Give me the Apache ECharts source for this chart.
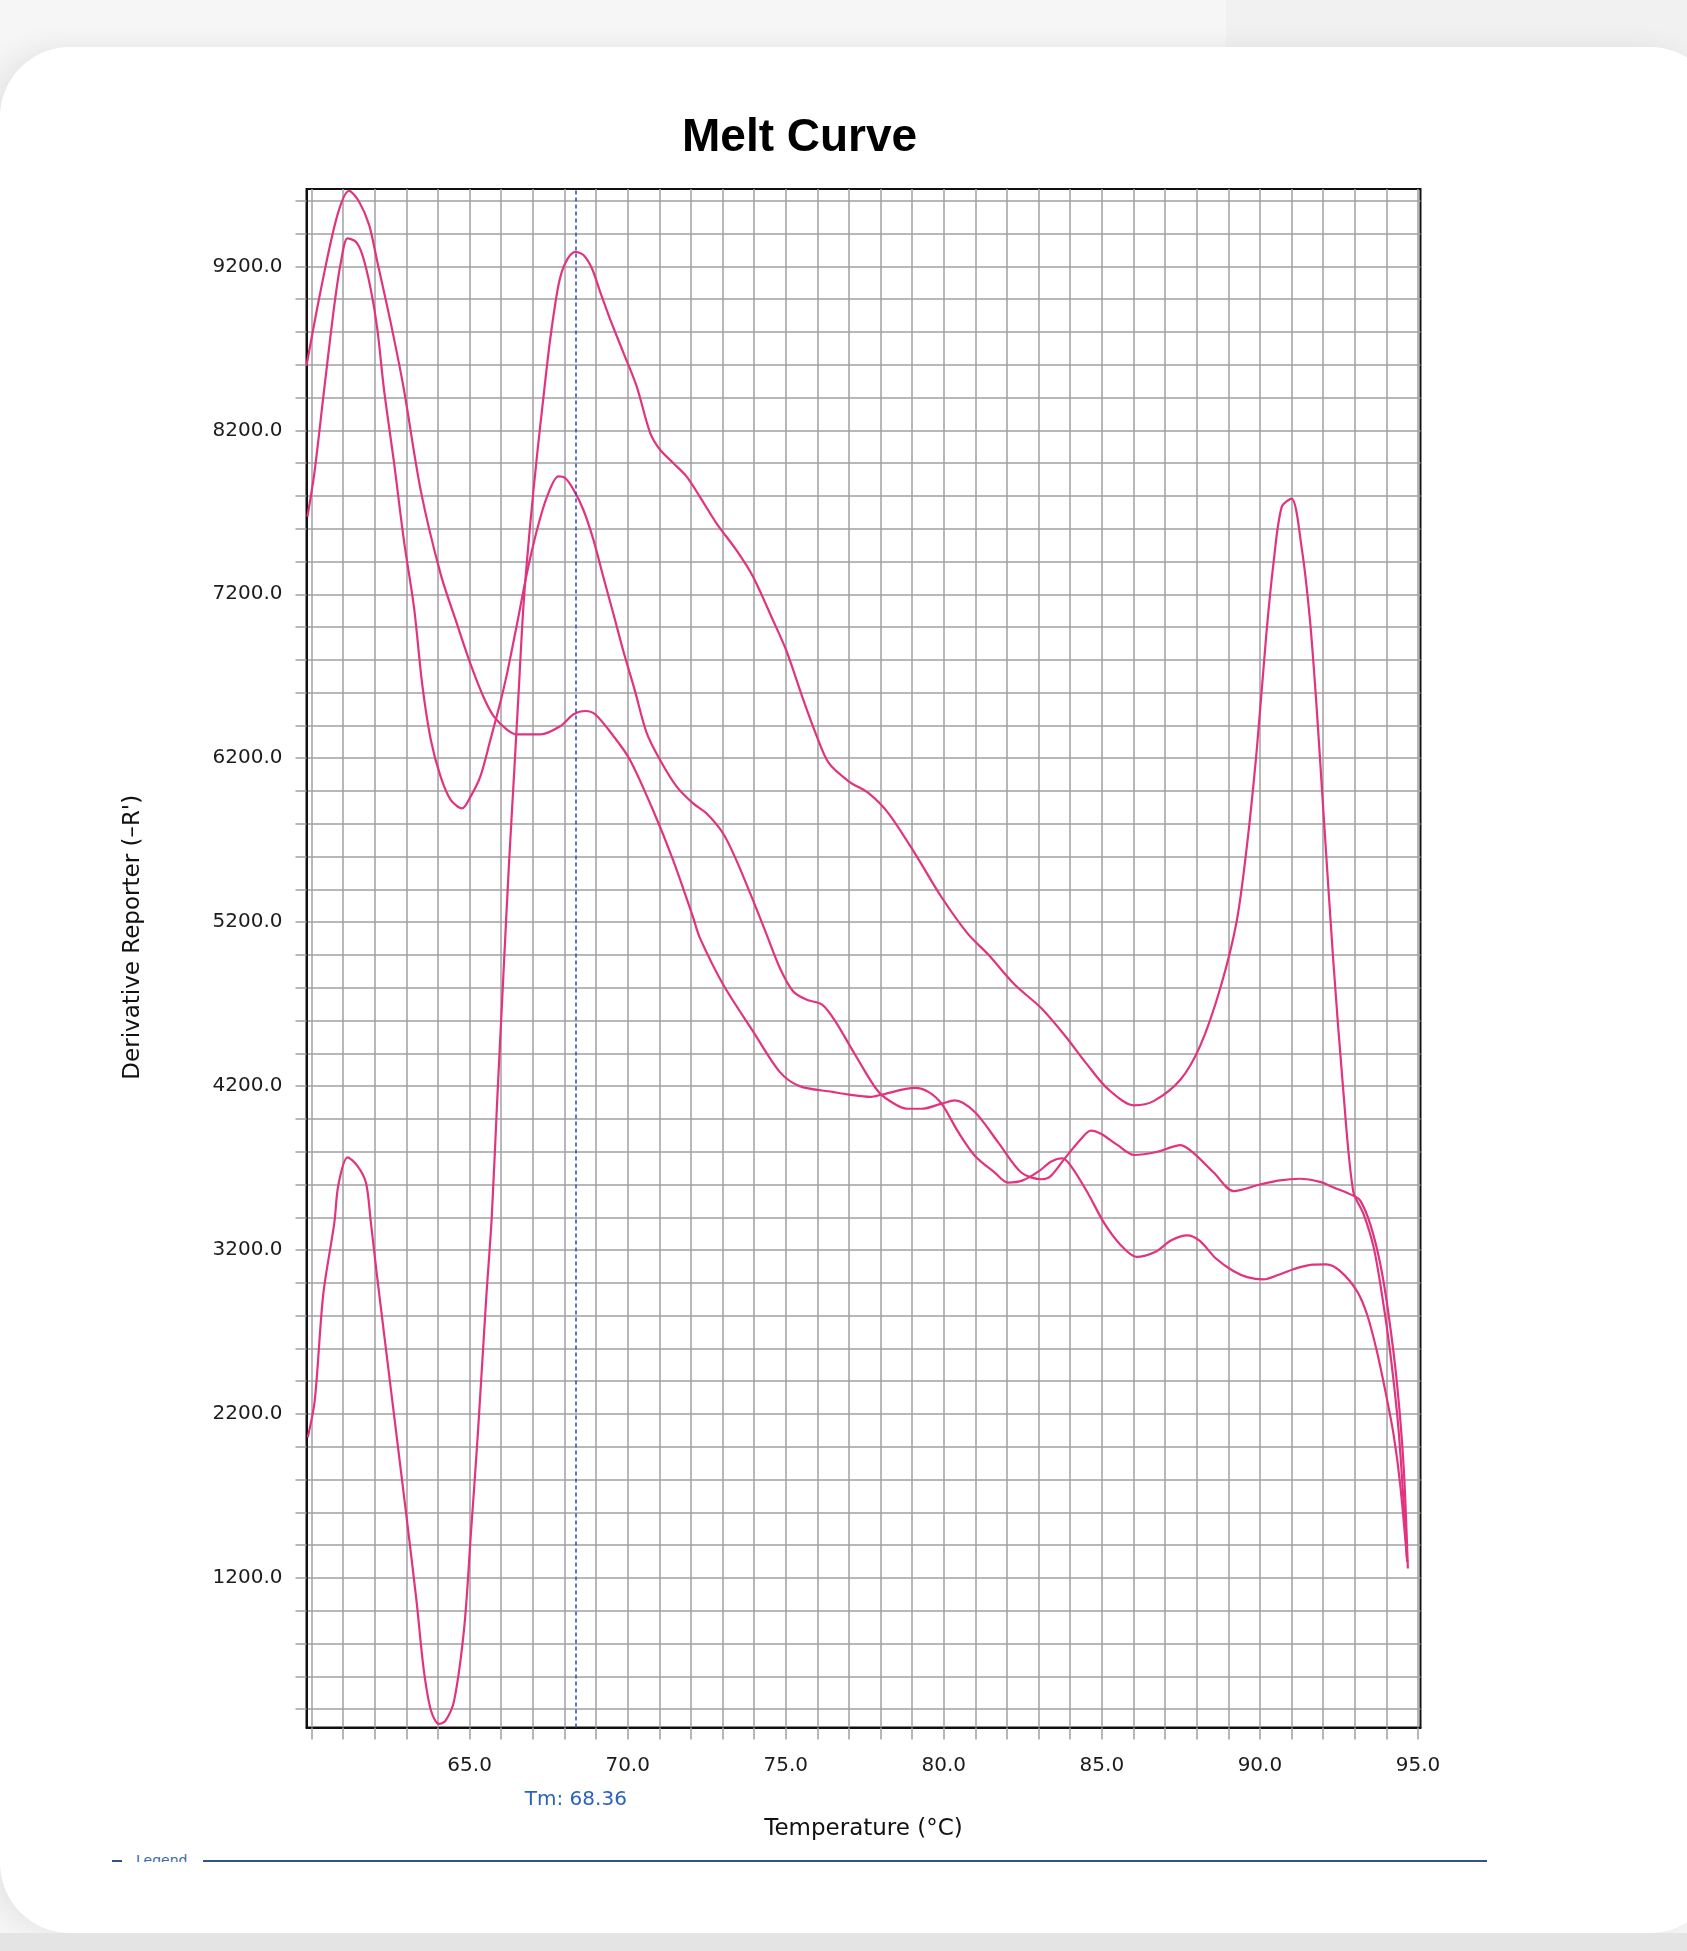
<!DOCTYPE html>
<html>
<head>
<meta charset="utf-8">
<script src="https://cdn.jsdelivr.net/npm/echarts@6/dist/echarts.min.js"></script>
<style>
  html, body { margin:0; padding:0; width:1687px; height:1951px; overflow:hidden; background:#f6f6f6; }
  #topband { position:absolute; left:1226px; top:0; width:461px; height:60px; background:#f1f1f1; }
  #card { position:absolute; left:0px; top:47px; width:1720px; height:1886px; background:#ffffff;
          border-radius:70px; box-shadow:-12px 0 28px rgba(0,0,0,0.07); }
  #botband { position:absolute; left:0; top:1933px; width:1687px; height:18px; background:#e4e4e4; }
  #legendline { position:absolute; left:203px; top:1860px; width:1284px; height:2px; background:#2f5487; }
  #legendtick { position:absolute; left:112px; top:1860px; width:10px; height:2px; background:#2f5487; }
  #legendtxt { position:absolute; left:136px; top:1850px; height:12px; overflow:hidden; font-family:'DejaVu Sans'; font-size:14px; line-height:20px; color:#3c6aa8; }
  #chart { position:absolute; left:0; top:0; width:1687px; height:1951px; }
</style>
</head>
<body>
<div id="topband"></div>
<div id="card"></div>
<div id="botband"></div>
<div id="legendtick"></div>
<div id="legendline"></div>
<div id="legendtxt">Legend</div>
<div id="chart"></div>
<script>
// ---- data ----
const xMin = 59.84, xMax = 95.08;
const yMin = 288, yMax = 9672;
const tmValue = 68.36;
const xTickValues = [60,61,62,63,64,65,66,67,68,69,70,71,72,73,74,75,76,77,78,79,80,81,82,83,84,85,86,87,88,89,90,91,92,93,94,95];
const xLabelValues = [65,70,75,80,85,90,95];
const yTickValues = [400,600,800,1000,1200,1400,1600,1800,2000,2200,2400,2600,2800,3000,3200,3400,3600,3800,4000,4200,4400,4600,4800,5000,5200,5400,5600,5800,6000,6200,6400,6600,6800,7000,7200,7400,7600,7800,8000,8200,8400,8600,8800,9000,9200,9400,9600];
const yLabelValues = [1200,2200,3200,4200,5200,6200,7200,8200,9200];

const wellA = [[59.84,8594],[60.3,9064],[60.82,9514],[61.19,9661],[61.5,9596],[61.82,9453],[62.08,9228],[62.5,8860],[62.92,8451],[63.45,7837],[64.08,7326],[64.6,7019],[65.03,6774],[65.45,6569],[65.76,6457],[66.18,6375],[66.5,6345],[67.24,6345],[67.87,6396],[68.29,6468],[68.66,6488],[68.97,6468],[69.55,6335],[70.07,6191],[70.8,5884],[71.44,5577],[72.07,5229],[72.28,5106],[73.02,4820],[73.97,4533],[74.81,4287],[75.44,4200],[76.47,4165],[77.0,4148],[77.68,4134],[78.04,4148],[79.09,4189],[79.51,4165],[79.93,4093],[80.46,3919],[80.98,3776],[81.61,3673],[82.03,3612],[82.5,3625],[83.0,3680],[83.4,3740],[83.75,3760],[84.02,3714],[84.55,3550],[85.07,3366],[85.6,3230],[86.1,3158],[86.7,3190],[87.2,3260],[87.7,3290],[88.1,3256],[88.6,3150],[89.16,3072],[89.6,3035],[90.11,3021],[90.6,3050],[91.06,3083],[91.6,3110],[92.1,3113],[92.54,3072],[93.07,2950],[93.39,2807],[93.7,2583],[93.97,2338],[94.23,2073],[94.44,1767],[94.66,1299]];

const wellB = [[59.87,7674],[60.09,7940],[60.4,8451],[60.72,8962],[60.93,9228],[61.14,9371],[61.4,9350],[61.61,9269],[61.87,9064],[62.08,8819],[62.29,8451],[62.61,8001],[62.92,7530],[63.24,7121],[63.5,6652],[63.77,6314],[64.08,6089],[64.4,5946],[64.76,5894],[65.03,5966],[65.34,6089],[65.66,6314],[65.97,6540],[66.18,6713],[66.5,7019],[66.81,7326],[67.13,7592],[67.45,7796],[67.81,7919],[68.02,7909],[68.29,7837],[68.6,7714],[68.92,7530],[69.23,7305],[69.55,7080],[69.86,6856],[70.23,6611],[70.6,6355],[71.02,6191],[71.55,6027],[72.07,5925],[72.49,5864],[73.02,5741],[73.44,5577],[73.97,5331],[74.39,5127],[74.81,4922],[75.23,4779],[75.65,4728],[76.15,4697],[76.57,4595],[77.2,4390],[77.94,4164],[78.5,4085],[78.88,4062],[79.3,4062],[79.93,4093],[80.35,4113],[80.98,4042],[81.72,3857],[82.45,3673],[83.08,3632],[83.39,3653],[83.81,3755],[84.34,3878],[84.65,3929],[84.97,3909],[85.5,3840],[86.02,3780],[86.76,3800],[87.49,3840],[87.91,3790],[88.54,3673],[89.17,3560],[90.0,3600],[90.63,3625],[91.26,3635],[91.9,3616],[92.33,3582],[92.96,3531],[93.18,3500],[93.49,3358],[93.81,3113],[94.07,2807],[94.34,2379],[94.55,1869],[94.68,1258]];

const wellC = [[59.88,2058],[60.1,2281],[60.37,2930],[60.72,3366],[60.85,3600],[61.14,3766],[61.45,3714],[61.72,3612],[61.87,3380],[62.06,3060],[62.3,2680],[62.58,2240],[63.0,1580],[63.32,1060],[63.55,640],[63.78,390],[64.03,310],[64.24,330],[64.51,452],[64.83,899],[65.04,1468],[65.26,2078],[65.52,2891],[65.7,3400],[65.87,4103],[66.08,4922],[66.24,5536],[66.39,6048],[66.55,6600],[66.71,7150],[66.92,7633],[67.13,8042],[67.34,8410],[67.55,8757],[67.81,9085],[68.02,9218],[68.34,9289],[68.6,9269],[68.87,9187],[69.13,9044],[69.44,8880],[69.86,8676],[70.28,8471],[70.71,8185],[71.02,8083],[71.44,8001],[71.86,7919],[72.28,7796],[72.81,7633],[73.44,7469],[73.97,7306],[74.6,7040],[75.02,6856],[75.55,6560],[75.94,6355],[76.36,6171],[77.0,6058],[77.62,5987],[78.25,5864],[79.09,5618],[79.93,5352],[80.77,5127],[81.4,5004],[82.24,4820],[83.08,4676],[83.81,4513],[84.55,4328],[85.18,4185],[86.02,4083],[86.65,4110],[87.49,4240],[88.12,4450],[88.75,4800],[89.26,5200],[89.58,5650],[89.9,6250],[90.2,6950],[90.43,7390],[90.69,7733],[91.0,7784],[91.32,7485],[91.58,7050],[91.79,6522],[92.0,5900],[92.32,4968],[92.63,4191],[92.95,3560],[93.28,3419],[93.6,3215],[93.86,2930],[94.13,2563],[94.39,2094],[94.66,1299]];

const wells = [wellA, wellB, wellC];

// ---- chart ----
const gridColor = '#a0a0a0';
const lineColor = '#e2337e';
const tickFont = 'DejaVu Sans';

const chart = echarts.init(document.getElementById('chart'), null, {renderer:'canvas'});
const series = wells.map((w, i) => ({
  type:'line', data:w, showSymbol:false, symbol:'none', smooth:0.3,
  sampling:'none',
  lineStyle:{color:lineColor, width:2.2}, itemStyle:{color:lineColor}, silent:true, z:3,
  markLine: i === 0 ? {
    silent:true, symbol:['none','none'], animation:false,
    lineStyle:{color:'#2b46c8', type:[4,3], width:1.5},
    label:{show:true, position:'start', formatter:'Tm: ' + tmValue.toFixed(2), color:'#2a63bd',
           fontFamily:tickFont, fontSize:20, distance:62},
    data:[{xAxis: tmValue}]
  } : undefined
}));

chart.setOption({
  backgroundColor:'transparent',
  animation:false,
  title:{
    text:'Melt Curve', left:677, top:110,
    textStyle:{fontFamily:'Liberation Sans', fontWeight:'bold', fontSize:46, color:'#000'}
  },
  grid:{left:306.5, right:266.5, top:189, bottom:223.5, containLabel:false, outerBoundsMode:'none',
        show:true, borderColor:'#111', borderWidth:2, backgroundColor:'transparent'},
  xAxis:{
    type:'value', min:xMin, max:xMax,
    axisLine:{show:true, onZero:false, lineStyle:{color:'#111', width:2}},
    axisTick:{show:true, customValues:xTickValues, length:12, inside:false, lineStyle:{color:gridColor, width:1.5}},
    axisLabel:{show:true, customValues:xLabelValues, formatter:v => Number(v).toFixed(1),
               fontFamily:tickFont, fontSize:20, color:'#1c1c1c', margin:28},
    splitLine:{show:true, lineStyle:{color:gridColor, width:1.5}},
    name:'Temperature (°C)', nameLocation:'middle', nameGap:90,
    nameTextStyle:{fontFamily:tickFont, fontSize:23, color:'#111'}
  },
  yAxis:{
    type:'value', min:yMin, max:yMax,
    axisLine:{show:true, onZero:false, lineStyle:{color:'#111', width:2}},
    axisTick:{show:true, customValues:yTickValues, length:11, inside:false, lineStyle:{color:gridColor, width:1.5}},
    axisLabel:{show:true, customValues:yLabelValues, formatter:v => Number(v).toFixed(1),
               fontFamily:tickFont, fontSize:20, color:'#1c1c1c', margin:24},
    splitLine:{show:true, lineStyle:{color:gridColor, width:1.5}},
    name:'Derivative Reporter (–R\')', nameLocation:'middle', nameGap:162, nameRotate:90,
    nameTextStyle:{fontFamily:tickFont, fontSize:23, color:'#111', padding:[0,0,0,42]}
  },
  series:series
});
</script>
</body>
</html>
